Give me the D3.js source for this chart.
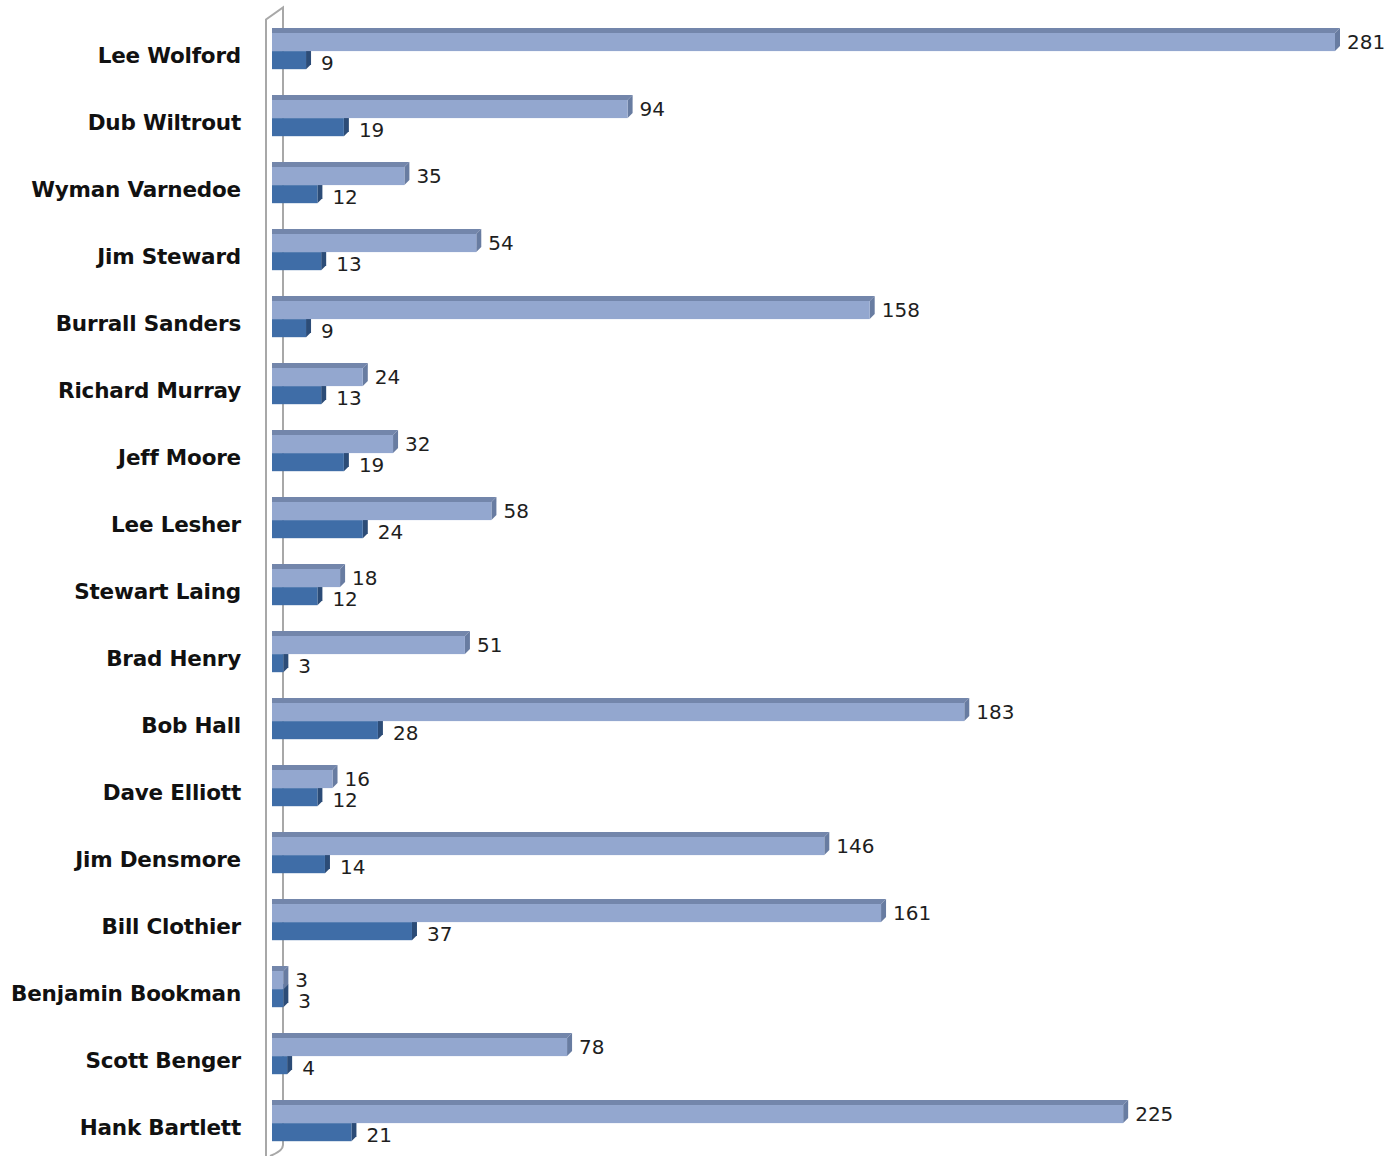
<!DOCTYPE html>
<html>
<head>
<meta charset="utf-8">
<script src="https://cdn.jsdelivr.net/npm/d3@7"></script>
<style>
  body { margin: 0; background: #fff; }
  svg { display: block; }
  .name { font-family: "DejaVu Sans", sans-serif; font-weight: bold; font-size: 21.5px; fill: #111; letter-spacing: -0.2px; }
  .val { font-family: "DejaVu Sans", sans-serif; font-size: 20px; fill: #1e1e1e; }
</style>
</head>
<body>
<svg id="chart" width="1398" height="1156"></svg>
<script>
// names from top to bottom
const names = ["Lee Wolford", "Dub Wiltrout", "Wyman Varnedoe", "Jim Steward", "Burrall Sanders",
  "Richard Murray", "Jeff Moore", "Lee Lesher", "Stewart Laing", "Brad Henry", "Bob Hall",
  "Dave Elliott", "Jim Densmore", "Bill Clothier", "Benjamin Bookman", "Scott Benger", "Hank Bartlett"];
const seriesA = [281, 94, 35, 54, 158, 24, 32, 58, 18, 51, 183, 16, 146, 161, 3, 78, 225];
const seriesB = [9, 19, 12, 13, 9, 13, 19, 24, 12, 3, 28, 12, 14, 37, 3, 4, 21];
const seriesKeys = ["a", "b"];

const svg = d3.select("#chart");
const depth = 5;

let x = d3.scaleLinear().domain([0, 281]).range([272, 1335]);
let y = d3.scaleBand().domain(names).range([-0.5, 1174.7]).paddingInner(0.46).paddingOuter(0.5);
let yi = d3.scaleBand().domain(seriesKeys).range([0, y.bandwidth()]);

const colors = {
  a: {front: "#93a7cf", top: "#7386ab", side: "#687ca1"},
  b: {front: "#3f6da7", top: "#33598a", side: "#2c4c77"}
};

// side wall (axis)
let x0 = x(0);
let wallTop = y.range()[0] + 8;
let wallBottom = 1145;
let wall = svg.append("g").attr("fill", "none").attr("stroke", "#a8a8a8").attr("stroke-width", 2);
wall.append("path")
  .attr("d", `M${x0 - 6},1156 L${x0 - 6},${wallTop + 12} L${x0 + 11},${wallTop} L${x0 + 11},${wallBottom} Q${x0 + 11},${wallBottom + 6} ${x0 - 2},1156`);

let rows = names.map((n, i) => ({name: n, a: seriesA[i], b: seriesB[i]}));

let groups = svg.selectAll("g.row").data(rows).enter().append("g")
  .attr("class", "row")
  .attr("transform", d => "translate(0," + y(d.name) + ")");

// dark bar first, light one on top covers its top face
["b", "a"].forEach(function(k){
  let h = yi.bandwidth();
  let c = colors[k];
  groups.each(function(d){
    let g = d3.select(this);
    let t = yi(k);
    let x1 = x(d[k]);
    g.append("polygon")
      .attr("points", [[x0, t], [x1, t], [x1 + depth, t - depth], [x0, t - depth]].join(" "))
      .attr("fill", c.top);
    g.append("polygon")
      .attr("points", [[x1, t], [x1 + depth, t - depth], [x1 + depth, t + h - depth], [x1, t + h]].join(" "))
      .attr("fill", c.side);
    g.append("rect")
      .attr("x", x0).attr("y", t)
      .attr("width", x1 - x0).attr("height", h)
      .attr("fill", c.front);
    g.append("text")
      .attr("class", "val")
      .attr("x", x1 + (k === "a" ? 12 : 15))
      .attr("y", t + h / 2 + (k === "a" ? 0 : 2.5))
      .attr("dy", "0.35em")
      .text(d[k]);
  });
});

// category names
svg.selectAll("text.name").data(names).enter().append("text")
  .attr("class", "name")
  .attr("x", 241)
  .attr("y", d => y(d) + y.bandwidth() / 2 + 4)
  .attr("dy", "0.36em")
  .attr("text-anchor", "end")
  .text(d => d);
</script>
</body>
</html>
